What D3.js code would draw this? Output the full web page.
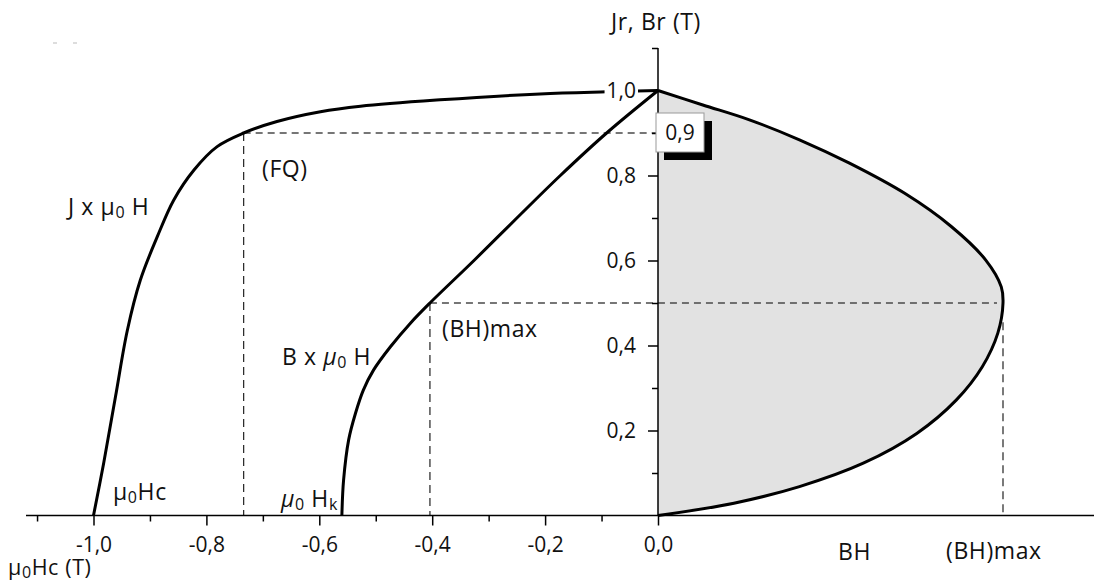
<!DOCTYPE html>
<html>
<head>
<meta charset="utf-8">
<script src="https://cdn.jsdelivr.net/npm/d3@7"></script>
<style>
  html, body { margin: 0; padding: 0; background: #ffffff; }
  svg { display: block; font-family: "Open Sans", "DejaVu Sans", sans-serif; }
</style>
</head>
<body>
<svg id="chart" width="1094" height="582"></svg>
<script>
// Demagnetization curves of a permanent magnet (second quadrant) and the BH energy product.

// J x μ0H (intrinsic curve): field μ0H (T) and polarization J (T)
const jCurveH = [-1.0, -0.982, -0.961, -0.940, -0.917, -0.887, -0.858, -0.822, -0.781, -0.734, -0.675, -0.598, -0.527, -0.386, -0.209, -0.091, 0.0];
const jCurveJ = [0.0, 0.123, 0.280, 0.436, 0.554, 0.656, 0.742, 0.813, 0.868, 0.900, 0.927, 0.950, 0.963, 0.978, 0.992, 0.997, 1.0];

// B x μ0H (normal curve): field μ0H (T) and induction B (T)
const bCurveH = [-0.560, -0.557, -0.548, -0.536, -0.522, -0.504, -0.474, -0.439, -0.404, -0.326, -0.250, -0.173, -0.091, 0.0];
const bCurveB = [0.0, 0.083, 0.178, 0.240, 0.295, 0.342, 0.397, 0.452, 0.500, 0.600, 0.700, 0.800, 0.900, 1.0];

// Energy product BH along the normal curve: induction B (T) and BH (T²)
const bhCurveB = [1.0, 0.966, 0.931, 0.884, 0.829, 0.758, 0.680, 0.601, 0.538, 0.500, 0.429, 0.350, 0.272, 0.193, 0.123, 0.068, 0.029, 0.0];
const bhCurveBH = [0.0, 0.026, 0.053, 0.082, 0.111, 0.143, 0.170, 0.190, 0.199, 0.200, 0.197, 0.188, 0.173, 0.150, 0.119, 0.082, 0.044, 0.0];

// Characteristic points
const fqPoint = { h: -0.734, j: 0.9 };      // knee (FQ)
const bhMaxPoint = { h: -0.404, b: 0.5, bh: 0.2 };
const bhMaxDropFrom = 0.455;                // B where the (BH)max drop line starts

// Axis ticks
const xMajorTicks = [-1.0, -0.8, -0.6, -0.4, -0.2, 0.0];
const xMinorTicks = [-1.1, -0.9, -0.7, -0.5, -0.3, -0.1];
const yMajorTicks = [0.2, 0.4, 0.6, 0.8, 1.0];
const yMinorTicks = [0.1, 0.3, 0.5, 0.7, 0.9, 1.1];
const boxedTick = 0.9;

const W = 1094, H = 582;
const svg = d3.select("#chart");

const x = d3.scaleLinear().domain([-1, 0]).range([93.5, 658]);
const y = d3.scaleLinear().domain([0, 1]).range([515.5, 90.5]);
const bhX = d3.scaleLinear().domain([0, 0.2]).range([x(0), x(0) + 345]);

const fmt = d3.formatLocale({ decimal: ",", thousands: ".", grouping: [3], currency: ["", ""], minus: "-" }).format(".1f");

const smooth = d3.curveCatmullRom.alpha(0.5);

// shaded BH region
const bhPts = bhCurveB.map((b, i) => [bhCurveBH[i], b]);
svg.append("path")
  .datum(bhPts)
  .attr("fill", "#e2e2e2")
  .attr("stroke", "none")
  .attr("d", d3.line().curve(smooth).x(d => bhX(d[0])).y(d => y(d[1]))(bhPts) + "Z");

// dashed guide lines
const guides = svg.append("g").attr("fill", "none");
guides.append("line")
  .attr("x1", x(fqPoint.h)).attr("x2", x(0))
  .attr("y1", y(fqPoint.j)).attr("y2", y(fqPoint.j))
  .attr("stroke", "#4a4a4a").attr("stroke-width", 1.6).attr("stroke-dasharray", "7,5");
guides.append("line")
  .attr("x1", x(fqPoint.h)).attr("x2", x(fqPoint.h))
  .attr("y1", y(fqPoint.j)).attr("y2", y(0))
  .attr("stroke", "#222").attr("stroke-width", 1.2).attr("stroke-dasharray", "8,5");
guides.append("line")
  .attr("x1", x(bhMaxPoint.h)).attr("x2", bhX(bhMaxPoint.bh) - 6)
  .attr("y1", y(bhMaxPoint.b)).attr("y2", y(bhMaxPoint.b))
  .attr("stroke", "#4a4a4a").attr("stroke-width", 1.6).attr("stroke-dasharray", "7,5");
guides.append("line")
  .attr("x1", x(bhMaxPoint.h)).attr("x2", x(bhMaxPoint.h))
  .attr("y1", y(bhMaxPoint.b)).attr("y2", y(0))
  .attr("stroke", "#222").attr("stroke-width", 1.2).attr("stroke-dasharray", "8,5");
guides.append("line")
  .attr("x1", bhX(bhMaxPoint.bh)).attr("x2", bhX(bhMaxPoint.bh))
  .attr("y1", y(bhMaxDropFrom)).attr("y2", y(0))
  .attr("stroke", "#222").attr("stroke-width", 1.2).attr("stroke-dasharray", "8,5");

// curves
const line = d3.line().curve(smooth).x(d => d[0]).y(d => d[1]);
svg.append("path")
  .attr("fill", "none").attr("stroke", "#000").attr("stroke-width", 3).attr("stroke-linejoin", "round")
  .attr("d", line(bhPts.map(d => [bhX(d[0]), y(d[1])])));
svg.append("path")
  .attr("fill", "none").attr("stroke", "#000").attr("stroke-width", 3).attr("stroke-linejoin", "round")
  .attr("d", line(jCurveH.map((h, i) => [x(h), y(jCurveJ[i])])));
svg.append("path")
  .attr("fill", "none").attr("stroke", "#000").attr("stroke-width", 3).attr("stroke-linejoin", "round")
  .attr("d", line(bCurveH.map((h, i) => [x(h), y(bCurveB[i])])));

// x axis
const xAxisG = svg.append("g").attr("transform", `translate(0,${y(0)})`);
xAxisG.append("line").attr("x1", 26).attr("x2", W).attr("stroke", "#000").attr("stroke-width", 1.5);
xAxisG.append("g")
  .call(d3.axisBottom(x).tickValues(xMinorTicks).tickSize(6).tickFormat(""))
  .call(g => g.select(".domain").remove());
xAxisG.append("g")
  .call(d3.axisBottom(x).tickValues(xMajorTicks).tickSize(10).tickPadding(12).tickFormat(fmt))
  .call(g => g.select(".domain").remove())
  .call(g => g.selectAll("text").attr("font-size", 21).attr("font-family", "Open Sans").attr("fill", "#111"));
xAxisG.selectAll(".tick line").attr("stroke", "#000").attr("stroke-width", 1.5);

// y axis
const yAxisG = svg.append("g").attr("transform", `translate(${x(0)},0)`);
yAxisG.append("line").attr("y1", y(0)).attr("y2", y(1.1)).attr("stroke", "#000").attr("stroke-width", 1.5);
yAxisG.append("g")
  .call(d3.axisLeft(y).tickValues(yMinorTicks).tickSize(6).tickFormat(""))
  .call(g => g.select(".domain").remove());
yAxisG.append("g")
  .call(d3.axisLeft(y).tickValues(yMajorTicks).tickSize(10).tickPadding(12).tickFormat(fmt))
  .call(g => g.select(".domain").remove())
  .call(g => g.selectAll("text")
    .attr("font-size", 21).attr("font-family", "Open Sans").attr("fill", "#111"))
  .call(g => g.selectAll(".tick").each(function () {
    // white plate behind each label so crossing curves stop at the text
    const tick = d3.select(this);
    const bb = tick.select("text").node().getBBox();
    tick.insert("rect", "text")
      .attr("x", bb.x - 2).attr("y", bb.y + 3)
      .attr("width", bb.width + 4).attr("height", bb.height - 6)
      .attr("fill", "#fff");
  }));
yAxisG.selectAll(".tick line").attr("stroke", "#000").attr("stroke-width", 1.5);

// boxed tick value with drop shadow
const boxG = svg.append("g").attr("transform", `translate(${x(0) - 2},${y(boxedTick) - 20})`);
boxG.append("rect").attr("x", 8).attr("y", 8).attr("width", 48).attr("height", 39).attr("fill", "#000");
boxG.append("rect").attr("x", 0).attr("y", 0).attr("width", 48).attr("height", 39)
  .attr("fill", "#fff").attr("stroke", "#999").attr("stroke-width", 1);
boxG.append("text").attr("x", 24).attr("y", 20).attr("dy", "0.35em").attr("text-anchor", "middle")
  .attr("font-size", 21).attr("fill", "#111").text(fmt(boxedTick));

// labels
const labels = svg.append("g").attr("fill", "#111").attr("font-size", 23).attr("letter-spacing", 0.6);

function addLabel(px, py, parts, anchor, size) {
  const t = labels.append("text").attr("x", px).attr("y", py).attr("text-anchor", anchor || "start");
  if (size) t.attr("font-size", size);
  parts.forEach(p => {
    const s = t.append("tspan").text(p.t);
    if (p.sub) s.attr("font-size", 16).attr("dy", 3);
    if (p.up) s.attr("dy", -3);
    if (p.it) s.attr("font-style", "italic");
  });
  return t;
}

addLabel(656, 30, [{ t: "Jr, Br (T)" }], "middle");
addLabel(68, 215, [{ t: "J x μ" }, { t: "0", sub: true }, { t: " H", up: true }]);
addLabel(262, 177, [{ t: "(FQ)" }]);
addLabel(282, 365, [{ t: "B x " }, { t: "μ", it: true }, { t: "0", sub: true }, { t: " H", up: true }]);
addLabel(442, 337, [{ t: "(BH)max" }]);
addLabel(113, 500, [{ t: "μ" }, { t: "0", sub: true }, { t: "Hc", up: true }]);
addLabel(281, 507, [{ t: "μ", it: true }, { t: "0", sub: true }, { t: " H", up: true }, { t: "k", sub: true }]);
addLabel(838, 560, [{ t: "BH" }]);
addLabel(946, 559, [{ t: "(BH)max" }]);
addLabel(8, 575, [{ t: "μ" }, { t: "0", sub: true }, { t: "Hc ", up: true }, { t: "(T)" }], "start", 21.5);

// two faint specks near the top-left corner
svg.append("g").attr("stroke", "#bbb").attr("stroke-width", 1)
  .selectAll("line").data([53, 73]).join("line")
  .attr("x1", d => d).attr("x2", d => d + 4).attr("y1", 43).attr("y2", 43);
</script>
</body>
</html>
